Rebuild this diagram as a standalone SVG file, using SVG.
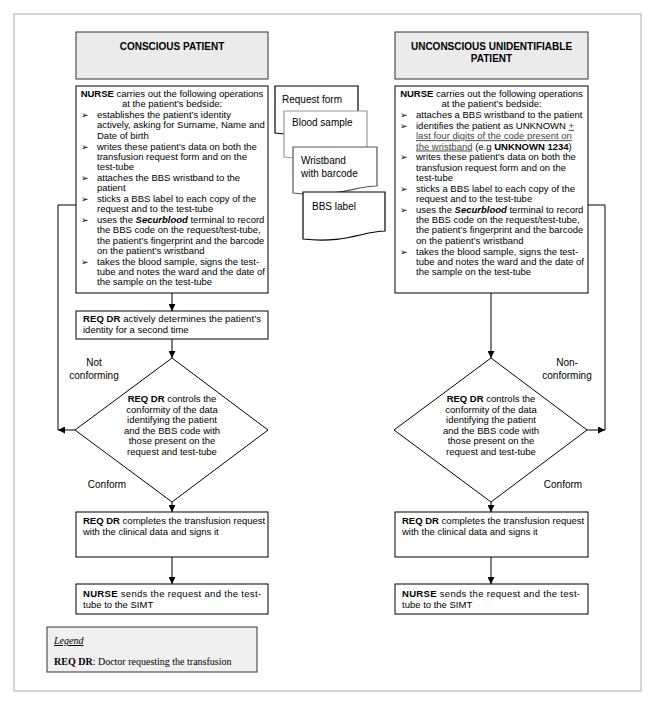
<svg xmlns="http://www.w3.org/2000/svg" width="655" height="704" viewBox="0 0 655 704">
<defs>
<marker id="ah" viewBox="0 0 10 10" refX="10" refY="5" markerWidth="7" markerHeight="7" markerUnits="userSpaceOnUse" orient="auto"><path d="M0,0 L10,5 L0,10 Z" fill="#000"/></marker>
</defs>
<style>
.t{font-family:"Liberation Sans",Arial,sans-serif;font-size:9.5px;fill:#000}
.d{font-family:"Liberation Sans",Arial,sans-serif;font-size:10px;fill:#000}
.h{font-family:"Liberation Sans",Arial,sans-serif;font-size:10px;font-weight:bold;fill:#000}
.s{font-family:"Liberation Serif","Times New Roman",serif;font-size:10px;fill:#000}
.bu{font-family:"DejaVu Sans",sans-serif;font-size:9px;fill:#000}
.b{font-weight:bold}
.u{text-decoration:underline;fill:#444}
.box{fill:#fff;stroke:#000;stroke-width:1}
.hd{fill:#ebebeb;stroke:#333;stroke-width:1}
.ln{stroke:#000;stroke-width:1;fill:none}
</style>
<rect x="14" y="14" width="627" height="677" fill="#fff" stroke="#c8c8c8" stroke-width="1.5"/>

<g id="hdr-left"><rect class="hd" x="76" y="32" width="192" height="47"/><text class="h" x="172" y="49.5" text-anchor="middle">CONSCIOUS PATIENT</text></g>
<g id="hdr-right"><rect class="hd" x="395" y="32" width="193" height="47"/><text class="h" x="491.5" y="49.5" text-anchor="middle">UNCONSCIOUS UNIDENTIFIABLE</text><text class="h" x="491.5" y="62" text-anchor="middle">PATIENT</text></g>

<g id="nurse-left">
<rect class="box" x="76" y="86" width="192" height="207"/>
<text class="t" x="172" y="97" text-anchor="middle"><tspan class="b">NURSE</tspan> carries out the following operations</text>
<text class="t" x="172" y="107.3" text-anchor="middle">at the patient’s bedside:</text>
<text class="bu" x="81" y="118.1">➢</text><text class="t" x="97" y="118.1">establishes the patient’s identity</text>
<text class="t" x="97" y="128.4">actively, asking for Surname, Name and</text>
<text class="t" x="97" y="138.7">Date of birth</text>
<text class="bu" x="81" y="149.5">➢</text><text class="t" x="97" y="149.5">writes these patient’s data on both the</text>
<text class="t" x="97" y="159.8">transfusion request form and on the</text>
<text class="t" x="97" y="170.1">test-tube</text>
<text class="bu" x="81" y="180.9">➢</text><text class="t" x="97" y="180.9">attaches the BBS wristband to the</text>
<text class="t" x="97" y="191.2">patient</text>
<text class="bu" x="81" y="202">➢</text><text class="t" x="97" y="202">sticks a BBS label to each copy of the</text>
<text class="t" x="97" y="212.3">request and to the test-tube</text>
<text class="bu" x="81" y="223.1">➢</text><text class="t" x="97" y="223.1">uses the <tspan class="b" font-style="italic">Securblood</tspan> terminal to record</text>
<text class="t" x="97" y="233.4">the BBS code on the request/test-tube,</text>
<text class="t" x="97" y="243.7">the patient’s fingerprint and the barcode</text>
<text class="t" x="97" y="254">on the patient’s wristband</text>
<text class="bu" x="81" y="264.8">➢</text><text class="t" x="97" y="264.8">takes the blood sample, signs the test-</text>
<text class="t" x="97" y="275.1">tube and notes the ward and the date of</text>
<text class="t" x="97" y="285.4">the sample on the test-tube</text>
</g>

<g id="nurse-right">
<rect class="box" x="395" y="86" width="193" height="207"/>
<text class="t" x="491.5" y="97" text-anchor="middle"><tspan class="b">NURSE</tspan> carries out the following operations</text>
<text class="t" x="491.5" y="107.3" text-anchor="middle">at the patient’s bedside:</text>
<text class="bu" x="400" y="118.1">➢</text><text class="t" x="416" y="118.1">attaches a BBS wristband to the patient</text>
<text class="bu" x="400" y="128.9">➢</text><text class="t" x="416" y="128.9">identifies the patient as UNKNOWN <tspan class="u">+</tspan></text>
<text class="t" x="416" y="139.2"><tspan class="u">last four digits of the code present on</tspan></text>
<text class="t" x="416" y="149.5"><tspan class="u">the wristband</tspan> (e.g <tspan class="b">UNKNOWN 1234</tspan>)</text>
<text class="bu" x="400" y="160.3">➢</text><text class="t" x="416" y="160.3">writes these patient’s data on both the</text>
<text class="t" x="416" y="170.6">transfusion request form and on the</text>
<text class="t" x="416" y="180.9">test-tube</text>
<text class="bu" x="400" y="191.7">➢</text><text class="t" x="416" y="191.7">sticks a BBS label to each copy of the</text>
<text class="t" x="416" y="202">request and to the test-tube</text>
<text class="bu" x="400" y="212.8">➢</text><text class="t" x="416" y="212.8">uses the <tspan class="b" font-style="italic">Securblood</tspan> terminal to record</text>
<text class="t" x="416" y="223.1">the BBS code on the request/test-tube,</text>
<text class="t" x="416" y="233.4">the patient’s fingerprint and the barcode</text>
<text class="t" x="416" y="243.7">on the patient’s wristband</text>
<text class="bu" x="400" y="254.5">➢</text><text class="t" x="416" y="254.5">takes the blood sample, signs the test-</text>
<text class="t" x="416" y="264.8">tube and notes the ward and the date of</text>
<text class="t" x="416" y="275.1">the sample on the test-tube</text>
</g>

<g id="doc-request"><path d="M275,86 H358 V126 C337,126 317,138 275,133 Z" fill="#fff" stroke="#000" stroke-width="1.2"/><text class="d" x="282" y="103">Request form</text></g>
<g id="doc-blood"><path d="M284,111 H367 V150 C346,150 326,162 284,157 Z" fill="#fff" stroke="#999" stroke-width="1.2"/><text class="d" x="292" y="126">Blood sample</text></g>
<g id="doc-wristband"><path d="M293,147 H377 V186 C356,186 336,198 293,193 Z" fill="#fff" stroke="#555" stroke-width="1.2"/><text class="d" x="301" y="164">Wristband</text><text class="d" x="301" y="177">with barcode</text></g>
<g id="doc-bbs"><path d="M303,192 H385 V231 C364,231 344,244 303,239 Z" fill="#fff" stroke="#000" stroke-width="1.2"/><text class="d" x="312" y="210">BBS label</text></g>

<g id="reqdr-left"><rect class="box" x="76" y="311" width="192" height="28"/>
<text class="t" x="83" y="322" textLength="178" lengthAdjust="spacing"><tspan class="b">REQ DR</tspan> actively determines the patient’s</text>
<text class="t" x="83" y="333">identity for a second time</text></g>

<g id="dec-left"><polygon points="172,358 268,430 172,502 75,430" fill="#fff" stroke="#000" stroke-width="1"/>
<text class="t" x="172" y="402" text-anchor="middle"><tspan class="b">REQ DR</tspan> controls the</text>
<text class="t" x="172" y="412.5" text-anchor="middle">conformity of the data</text>
<text class="t" x="172" y="423" text-anchor="middle">identifying the patient</text>
<text class="t" x="172" y="433.5" text-anchor="middle">and the BBS code with</text>
<text class="t" x="172" y="444" text-anchor="middle">those present on the</text>
<text class="t" x="172" y="454.5" text-anchor="middle">request and test-tube</text></g>

<g id="dec-right"><polygon points="491,358 587,430 491,502 394,430" fill="#fff" stroke="#000" stroke-width="1"/>
<text class="t" x="491" y="402" text-anchor="middle"><tspan class="b">REQ DR</tspan> controls the</text>
<text class="t" x="491" y="412.5" text-anchor="middle">conformity of the data</text>
<text class="t" x="491" y="423" text-anchor="middle">identifying the patient</text>
<text class="t" x="491" y="433.5" text-anchor="middle">and the BBS code with</text>
<text class="t" x="491" y="444" text-anchor="middle">those present on the</text>
<text class="t" x="491" y="454.5" text-anchor="middle">request and test-tube</text></g>

<g id="complete-left"><rect class="box" x="76" y="512" width="192" height="45"/>
<text class="t" x="83" y="524"><tspan class="b">REQ DR</tspan> completes the transfusion request</text>
<text class="t" x="83" y="535">with the clinical data and signs it</text></g>
<g id="complete-right"><rect class="box" x="395" y="512" width="193" height="45"/>
<text class="t" x="402" y="524"><tspan class="b">REQ DR</tspan> completes the transfusion request</text>
<text class="t" x="402" y="535">with the clinical data and signs it</text></g>

<g id="send-left"><rect class="box" x="76" y="584" width="192" height="30"/>
<text class="t" x="83" y="597" textLength="178" lengthAdjust="spacing"><tspan class="b">NURSE</tspan> sends the request and the test-</text>
<text class="t" x="83" y="608">tube to the SIMT</text></g>
<g id="send-right"><rect class="box" x="395" y="584" width="193" height="30"/>
<text class="t" x="402" y="597" textLength="178" lengthAdjust="spacing"><tspan class="b">NURSE</tspan> sends the request and the test-</text>
<text class="t" x="402" y="608">tube to the SIMT</text></g>

<g id="connectors">
<line class="ln" x1="172" y1="293" x2="172" y2="311" marker-end="url(#ah)"/>
<line class="ln" x1="172" y1="339" x2="172" y2="358" marker-end="url(#ah)"/>
<line class="ln" x1="172" y1="502" x2="172" y2="512" marker-end="url(#ah)"/>
<line class="ln" x1="172" y1="557" x2="172" y2="584" marker-end="url(#ah)"/>
<line class="ln" x1="75" y1="430" x2="58" y2="430" marker-end="url(#ah)"/>
<polyline class="ln" points="58,430 58,205 76,205"/>
<line class="ln" x1="491" y1="293" x2="491" y2="358" marker-end="url(#ah)"/>
<line class="ln" x1="491" y1="502" x2="491" y2="512" marker-end="url(#ah)"/>
<line class="ln" x1="491" y1="557" x2="491" y2="584" marker-end="url(#ah)"/>
<line class="ln" x1="587" y1="430" x2="605" y2="430" marker-end="url(#ah)"/>
<polyline class="ln" points="605,430 605,205 588,205"/>
<text class="d" x="94" y="366" text-anchor="middle">Not</text>
<text class="d" x="94" y="379" text-anchor="middle">conforming</text>
<text class="d" x="107" y="488" text-anchor="middle">Conform</text>
<text class="d" x="567" y="366" text-anchor="middle">Non-</text>
<text class="d" x="567" y="379" text-anchor="middle">conforming</text>
<text class="d" x="563" y="488" text-anchor="middle">Conform</text>
</g>

<g id="legend"><rect x="47" y="627" width="210" height="45" fill="#f0f0f0" stroke="#333" stroke-width="1"/>
<text class="s" x="54" y="644" font-style="italic" text-decoration="underline">Legend</text>
<text class="s" x="54" y="665"><tspan class="b">REQ DR</tspan>: Doctor requesting the transfusion</text></g>
</svg>
